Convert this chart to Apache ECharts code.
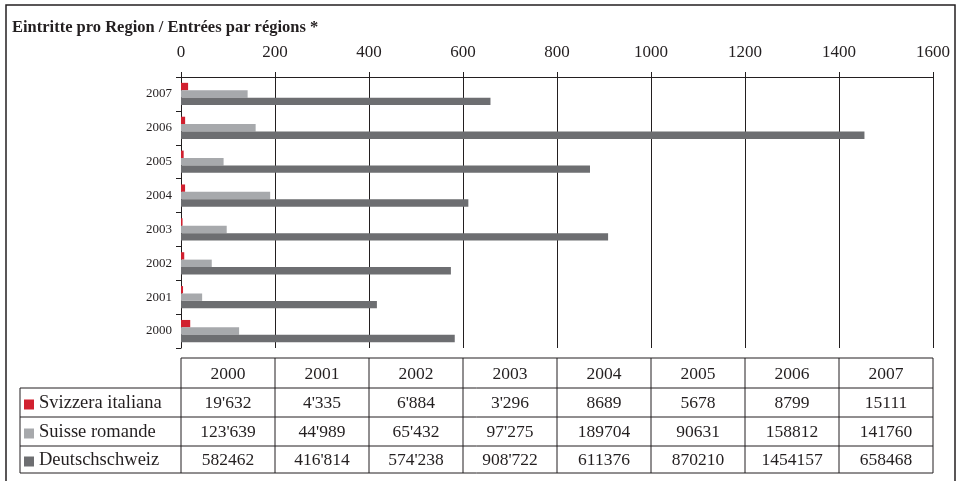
<!DOCTYPE html>
<html>
<head>
<meta charset="utf-8">
<script src="https://cdn.jsdelivr.net/npm/echarts@6/dist/echarts.min.js"></script>
<style>
html,body{margin:0;padding:0;background:#fff;}
#c{width:959px;height:481px;}
</style>
</head>
<body>
<div id="c"></div>
<script>
var title = 'Eintritte pro Region / Entrées par régions *';
var years = ['2000','2001','2002','2003','2004','2005','2006','2007'];
var seriesNames = ['Svizzera italiana','Suisse romande','Deutschschweiz'];
var seriesColors = ['#d1202f','#a7a9ac','#6d6e71'];
var svizzeraItaliana = [19632, 4335, 6884, 3296, 8689, 5678, 8799, 15111];
var suisseRomande = [123639, 44989, 65432, 97275, 189704, 90631, 158812, 141760];
var deutschschweiz = [582462, 416814, 574238, 908722, 611376, 870210, 1454157, 658468];
var svizzeraItalianaText = ["19'632","4'335","6'884","3'296","8689","5678","8799","15111"];
var suisseRomandeText = ["123'639","44'989","65'432","97'275","189704","90631","158812","141760"];
var deutschschweizText = ["582462","416'814","574'238","908'722","611376","870210","1454157","658468"];
var axisMax = 1600000;
var axisStep = 200000;

var FONT = '"Liberation Serif", "DejaVu Serif", serif';
var chart = echarts.init(document.getElementById('c'));

var values = [svizzeraItaliana, suisseRomande, deutschschweiz];
var series = values.map(function (v, i) {
  return {
    name: seriesNames[i],
    type: 'bar',
    data: v,
    barWidth: 7.4,
    barGap: '0%',
    itemStyle: { color: seriesColors[i] },
    animation: false
  };
});

chart.setOption({
  animation: false,
  title: {
    text: title, left: 7, top: 14,
    textStyle: { fontFamily: FONT, fontWeight: 'bold', fontSize: 16.5, color: '#231f20' }
  },
  grid: { left: 181, right: 26, top: 77, height: 271, containLabel: false },
  xAxis: {
    type: 'value', position: 'top', min: 0, max: axisMax, interval: axisStep,
    axisLine: { show: true, lineStyle: { color: '#231f20', width: 1 } },
    axisTick: { show: true, length: 5, lineStyle: { color: '#231f20' } },
    axisLabel: {
      fontFamily: FONT, fontSize: 17, color: '#231f20', margin: 16,
      formatter: function (v) { return String(v / 1000); }
    },
    splitLine: { show: true, lineStyle: { color: '#231f20', width: 1 } }
  },
  yAxis: {
    type: 'category', data: years,
    axisLine: { show: true, lineStyle: { color: '#231f20', width: 1 } },
    axisTick: { show: true, length: 5, alignWithLabel: false, lineStyle: { color: '#231f20' } },
    axisLabel: { fontFamily: FONT, fontSize: 13, color: '#231f20', margin: 9 },
    splitLine: { show: false }
  },
  series: series
});

// Table beneath the chart, columns aligned with the value axis grid lines
var colX = [];
for (var k = 0; k <= years.length; k++) {
  colX.push(chart.convertToPixel({ xAxisIndex: 0 }, k * axisStep));
}
var rowY = [358, 388, 417, 446, 473];
var labelLeft = 20;
var texts = [svizzeraItalianaText, suisseRomandeText, deutschschweizText];
var g = [];
var lineStyle = { stroke: '#231f20', lineWidth: 1 };
function line(x1, y1, x2, y2) {
  g.push({ type: 'line', shape: { x1: x1, y1: y1, x2: x2, y2: y2 }, style: lineStyle, silent: true });
}
var xL = colX[0], xR = colX[colX.length - 1];
line(xL, rowY[0], xR, rowY[0]);
for (var r = 1; r < rowY.length; r++) line(labelLeft, rowY[r], xR, rowY[r]);
line(labelLeft, rowY[1], labelLeft, rowY[4]);
for (var c = 0; c < colX.length; c++) line(colX[c], rowY[0], colX[c], rowY[4]);
var TS = 17.5;
for (var c2 = 0; c2 < years.length; c2++) {
  g.push({ type: 'text', x: (colX[c2] + colX[c2 + 1]) / 2, y: (rowY[0] + rowY[1]) / 2 + 1,
    style: { text: years[c2], fontFamily: FONT, fontSize: TS, fill: '#231f20', align: 'center', verticalAlign: 'middle' } });
}
for (var s = 0; s < 3; s++) {
  var cy = (rowY[s + 1] + rowY[s + 2]) / 2 + 1;
  g.push({ type: 'rect', shape: { x: 24, y: cy - 4, width: 10, height: 10 }, style: { fill: seriesColors[s] } });
  g.push({ type: 'text', x: 39, y: cy,
    style: { text: seriesNames[s], fontFamily: FONT, fontSize: 18.5, fill: '#231f20', align: 'left', verticalAlign: 'middle' } });
  for (var c3 = 0; c3 < years.length; c3++) {
    g.push({ type: 'text', x: (colX[c3] + colX[c3 + 1]) / 2, y: cy,
      style: { text: texts[s][c3], fontFamily: FONT, fontSize: TS, fill: '#231f20', align: 'center', verticalAlign: 'middle' } });
  }
}
g.push({ type: 'rect', shape: { x: 6, y: 5, width: 949, height: 480 }, style: { fill: 'none', stroke: '#231f20', lineWidth: 1.5 }, silent: true });
chart.setOption({ graphic: g });
</script>
</body>
</html>
